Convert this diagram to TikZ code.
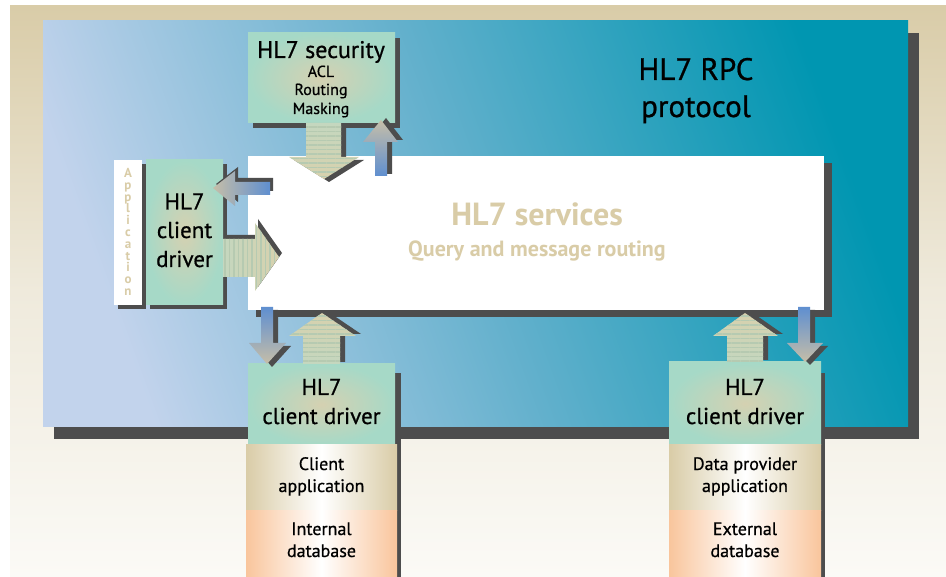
\documentclass[tikz,border=0pt]{standalone}
\usepackage{fontspec}
\setmainfont{PT Sans}[FakeBold=0.7]
\newfontfamily\svcfont{PT Sans Bold}
\usetikzlibrary{shadows,patterns.meta}

\definecolor{frametop}{HTML}{D9CCA8}
\definecolor{framemid}{HTML}{EFEADC}
\definecolor{framebot}{HTML}{FBFAF6}
\definecolor{panellight}{HTML}{C2D3EC}
\definecolor{panelmid}{HTML}{62B0CC}
\definecolor{panelteal}{HTML}{0096B1}
\definecolor{shadowgrey}{HTML}{4D4D4D}
\definecolor{mint}{HTML}{A6D9C7}
\definecolor{mintcore}{HTML}{D5D1B1}
\definecolor{tan}{HTML}{D9CCA7}
\definecolor{peach}{HTML}{F9C59C}
\definecolor{arrowblue}{HTML}{5F8FD0}
\definecolor{arrowgrey}{HTML}{C6BEA8}
\definecolor{stripegreen}{HTML}{C4D7BF}
\definecolor{stripetan}{HTML}{D8D1AD}
\definecolor{stripedark}{HTML}{B6CAB1}

\begin{document}
\begin{tikzpicture}[x=1pt,y=-1pt,
  box/.style={anchor=north west, inner sep=0pt, outer sep=0pt},
  mintbox/.style={box, inner color=mintcore, outer color=mint},
  appbox/.style={box, left color=tan, right color=tan, middle color=white},
  dbbox/.style={box, left color=peach, right color=peach, middle color=white},
  lbl/.style={anchor=base, inner sep=0pt},
  bigtxt/.style={lbl, font=\fontsize{31}{31}\selectfont},
  drvtxt/.style={lbl, font=\fontsize{23}{23}\selectfont},
  subtxt/.style={lbl, font=\fontsize{16}{16}\selectfont},
  stacktxt/.style={lbl, font=\fontsize{18}{18}\selectfont},
  arrshadow/.style={fill=shadowgrey},
  blueup/.style={top color=arrowgrey, bottom color=arrowblue},
  bluedown/.style={top color=arrowblue, bottom color=arrowgrey},
  blueleft/.style={left color=arrowgrey, right color=arrowblue},
  stripev/.style={postaction={pattern={Lines[angle=0,distance=4.5pt,line width=1.8pt]}, pattern color=stripedark}},
  stripeh/.style={postaction={pattern={Lines[angle=90,distance=4.5pt,line width=1.8pt]}, pattern color=stripedark}},
  stripeup/.style={top color=stripetan, bottom color=stripegreen, stripev},
  stripedown/.style={top color=stripegreen, bottom color=stripetan, stripev},
  striperight/.style={left color=stripegreen, right color=stripetan, stripeh}]

\useasboundingbox (0,0) rectangle (946,577);

% Background and protocol panel
\fill[white] (0,0) rectangle (946,577);
\shade[top color=frametop, bottom color=framebot, middle color=framemid] (10,6) rectangle (946,577);

\node[box, minimum width=865pt, minimum height=406pt,
      left color=panellight, right color=panelteal, middle color=panelmid, shading angle=110,
      general shadow={shadow xshift=11pt, shadow yshift=-12pt, fill=shadowgrey}] (rpc) at (43,21) {};
    \node[bigtxt] (rpcA) at (696,80) {HL7 RPC};
    \node[bigtxt] (rpcB) at (696,117) {protocol};

% HL7 services
\node[box, fill=white, minimum width=576pt, minimum height=154pt,
      general shadow={shadow xshift=8pt, shadow yshift=-7pt, fill=shadowgrey}] (svc) at (248,156) {};
    \node[lbl, text=tan, font=\svcfont\fontsize{32}{32}\selectfont] (svcA) at (537,226) {HL7 services};
    \node[lbl, text=tan, font=\svcfont\fontsize{22}{22}\selectfont] (svcB) at (537,257) {Query and message routing};

% HL7 security
\node[mintbox, minimum width=147pt, minimum height=90pt,
      general shadow={shadow xshift=5pt, shadow yshift=-5pt, fill=shadowgrey}] (sec) at (248,33) {};
    \node[lbl, font=\fontsize{24}{24}\selectfont] (secA) at (321,58) {HL7 security};
    \node[subtxt] (secB) at (321,77) {ACL};
    \node[subtxt] (secC) at (321,95) {Routing};
    \node[subtxt] (secD) at (321,114) {Masking};

% Application with its client driver
\node[box, fill=white, minimum width=28pt, minimum height=145pt,
      general shadow={shadow xshift=4pt, shadow yshift=-4pt, fill=shadowgrey}] (app) at (114,160) {};
    \node[align=center, text=tan, inner sep=0pt, font=\svcfont\fontsize{13}{11.8}\selectfont] (appA) at (128,232)
      {A\\p\\p\\l\\i\\c\\a\\t\\i\\o\\n};
\node[mintbox, minimum width=77pt, minimum height=145pt,
      general shadow={shadow xshift=4pt, shadow yshift=-4pt, fill=shadowgrey}] (drvL) at (146,160) {};
    \node[drvtxt] (drvLA) at (184.5,209.5) {HL7};
    \node[drvtxt] (drvLB) at (184.5,238) {client};
    \node[drvtxt] (drvLC) at (184.5,267) {driver};

% Client stack
\fill[shadowgrey] (256,373) rectangle (401,577);
\node[mintbox, minimum width=147pt, minimum height=81pt] (drvC) at (248,364) {};
    \node[drvtxt] (drvCA) at (321.5,395) {HL7};
    \node[drvtxt] (drvCB) at (321.5,424) {client driver};
\node[appbox, minimum width=151pt, minimum height=65pt] (cliApp) at (246,445) {};
    \node[stacktxt] (cliAppA) at (321.5,470) {Client};
    \node[stacktxt] (cliAppB) at (321.5,492) {application};
\node[dbbox, minimum width=151pt, minimum height=67pt] (intDb) at (246,510) {};
    \node[stacktxt] (intDbA) at (321.5,535) {Internal};
    \node[stacktxt] (intDbB) at (321.5,557) {database};

% Data provider stack
\fill[shadowgrey] (677,373) rectangle (825,577);
\node[mintbox, minimum width=152pt, minimum height=83pt] (drvP) at (669,362) {};
    \node[drvtxt] (drvPA) at (745,395) {HL7};
    \node[drvtxt] (drvPB) at (745,424) {client driver};
\node[appbox, minimum width=152pt, minimum height=65pt] (provApp) at (669,445) {};
    \node[stacktxt] (provAppA) at (745,470) {Data provider};
    \node[stacktxt] (provAppB) at (745,492) {application};
\node[dbbox, minimum width=152pt, minimum height=67pt] (extDb) at (669,510) {};
    \node[stacktxt] (extDbA) at (745,535) {External};
    \node[stacktxt] (extDbB) at (745,557) {database};

% Arrows security <-> services
\fill[arrshadow, shift={(5,3)}] (306,123) -- (306,157) -- (289,157) -- (324,179) -- (359,157) -- (341,157) -- (341,123) -- cycle;
\path[stripedown] (306,123) -- (306,157) -- (289,157) -- (324,179) -- (359,157) -- (341,157) -- (341,123) -- cycle;

\fill[arrshadow, shift={(5,-2)}] (375,176) -- (375,142) -- (363,142) -- (381,120) -- (398,142) -- (387,142) -- (387,176) -- cycle;
\path[blueup] (375,176) -- (375,142) -- (363,142) -- (381,120) -- (398,142) -- (387,142) -- (387,176) -- cycle;

% Arrows application <-> services
\fill[arrshadow, shift={(3,-4)}] (270,182) -- (235,182) -- (235,171) -- (213,188) -- (235,206) -- (235,195) -- (270,195) -- cycle;
\path[blueleft] (270,182) -- (235,182) -- (235,171) -- (213,188) -- (235,206) -- (235,195) -- (270,195) -- cycle;

\fill[arrshadow, shift={(3,-4)}] (223,239) -- (255,239) -- (255,223) -- (279,257) -- (255,291) -- (255,277) -- (223,277) -- cycle;
\path[striperight] (223,239) -- (255,239) -- (255,223) -- (279,257) -- (255,291) -- (255,277) -- (223,277) -- cycle;

% Arrows client stack <-> services
\fill[arrshadow, shift={(5,3)}] (261,307) -- (261,343) -- (249,343) -- (267,364) -- (286,343) -- (273,343) -- (273,307) -- cycle;
\path[bluedown] (261,307) -- (261,343) -- (249,343) -- (267,364) -- (286,343) -- (273,343) -- (273,307) -- cycle;

\fill[arrshadow, shift={(5,-2)}] (303,364) -- (303,336) -- (289,336) -- (322,313) -- (356,336) -- (340,336) -- (340,364) -- cycle;
\path[stripeup] (303,364) -- (303,336) -- (289,336) -- (322,313) -- (356,336) -- (340,336) -- (340,364) -- cycle;

% Arrows provider stack <-> services
\fill[arrshadow, shift={(5,-2)}] (727,362) -- (727,336) -- (713,336) -- (745,313) -- (778,336) -- (763,336) -- (763,362) -- cycle;
\path[stripeup] (727,362) -- (727,336) -- (713,336) -- (745,313) -- (778,336) -- (763,336) -- (763,362) -- cycle;

\fill[arrshadow, shift={(5,3)}] (798,307) -- (798,343) -- (787,343) -- (805,362) -- (823,343) -- (810,343) -- (810,307) -- cycle;
\path[bluedown] (798,307) -- (798,343) -- (787,343) -- (805,362) -- (823,343) -- (810,343) -- (810,307) -- cycle;

\end{tikzpicture}
\end{document}
